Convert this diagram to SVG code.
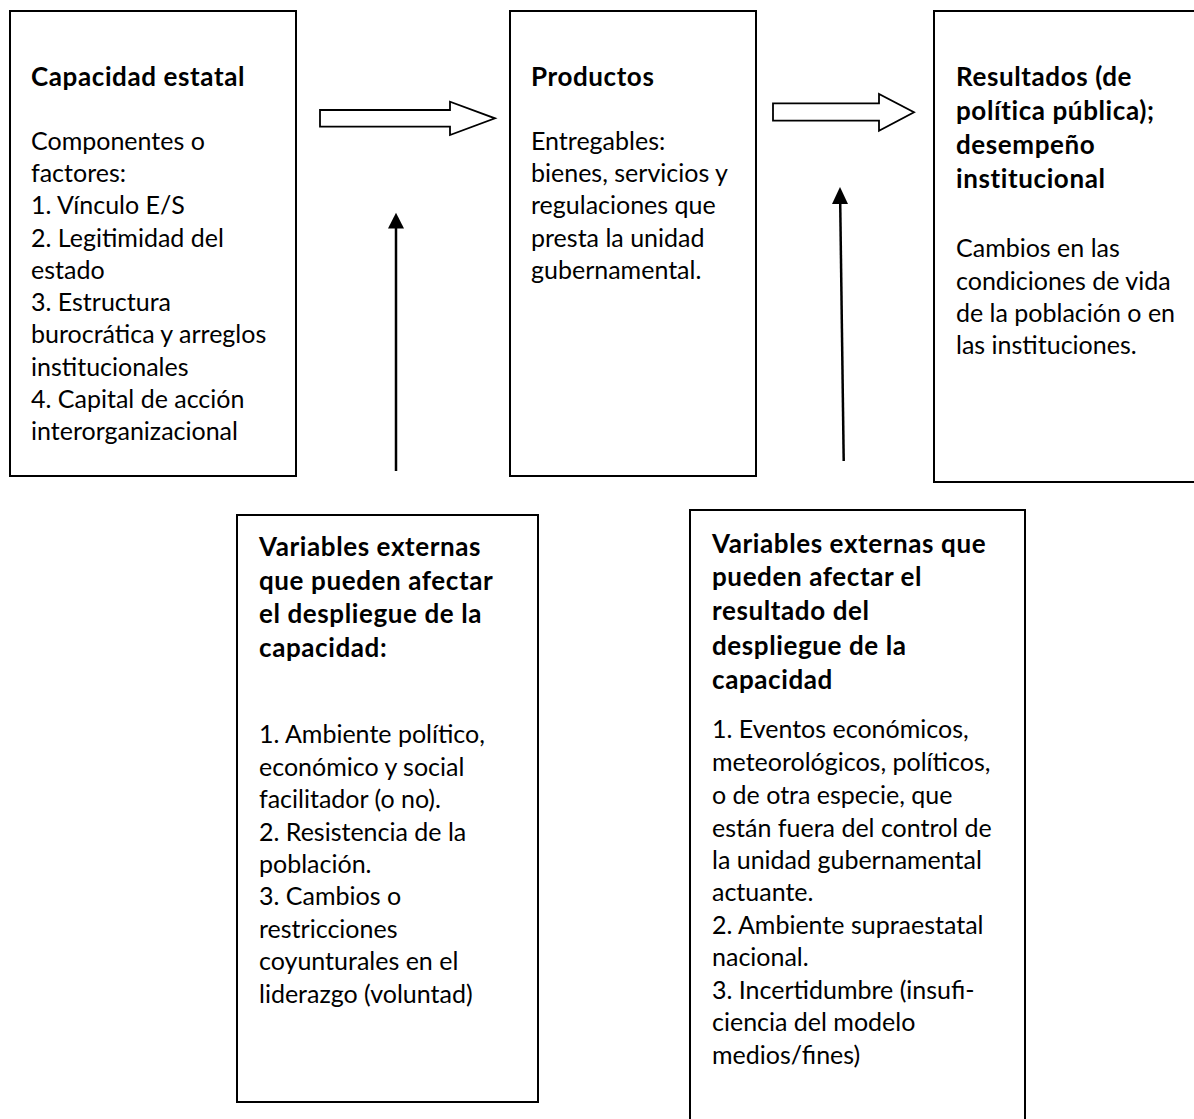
<svg xmlns="http://www.w3.org/2000/svg" width="1194" height="1119" viewBox="0 0 1194 1119">
<style>
.box{fill:#fff;stroke:#000;stroke-width:2}
.t{font-family:Lato,"Liberation Sans",sans-serif;font-size:25px;fill:#000}
.b{font-weight:bold;font-size:26px;letter-spacing:0.6px}
.blk{fill:#fff;stroke:#000;stroke-width:1.8;stroke-linejoin:miter}
.ln{stroke:#000;stroke-width:2.5;fill:none}
</style>
<rect width="1194" height="1119" fill="#fff"/>
<g id="capacidad">
<rect class="box" x="10" y="11" width="286" height="465"/>
<text class="t b" x="31" y="86">Capacidad estatal</text>
<text class="t" x="31" y="150">Componentes o</text>
<text class="t" x="31" y="182">factores:</text>
<text class="t" x="31" y="214">1. Vínculo E/S</text>
<text class="t" x="31" y="247">2. Legitimidad del</text>
<text class="t" x="31" y="279">estado</text>
<text class="t" x="31" y="311">3. Estructura</text>
<text class="t" x="31" y="343">burocrática y arreglos</text>
<text class="t" x="31" y="376">institucionales</text>
<text class="t" x="31" y="408">4. Capital de acción</text>
<text class="t" x="31" y="440">interorganizacional</text>
</g>
<g id="productos">
<rect class="box" x="510" y="11" width="246" height="465"/>
<text class="t b" x="531" y="86">Productos</text>
<text class="t" x="531" y="150">Entregables:</text>
<text class="t" x="531" y="182">bienes, servicios y</text>
<text class="t" x="531" y="214">regulaciones que</text>
<text class="t" x="531" y="247">presta la unidad</text>
<text class="t" x="531" y="279">gubernamental.</text>
</g>
<g id="resultados">
<rect class="box" x="934" y="11" width="270" height="471"/>
<text class="t b" x="956" y="86">Resultados (de</text>
<text class="t b" x="956" y="120">política pública);</text>
<text class="t b" x="956" y="154">desempeño</text>
<text class="t b" x="956" y="188">institucional</text>
<text class="t" x="956" y="257">Cambios en las</text>
<text class="t" x="956" y="290">condiciones de vida</text>
<text class="t" x="956" y="322">de la población o en</text>
<text class="t" x="956" y="354">las instituciones.</text>
</g>
<g id="variables-capacidad">
<rect class="box" x="237" y="515" width="301" height="587"/>
<text class="t b" x="259" y="556">Variables externas</text>
<text class="t b" x="259" y="590">que pueden afectar</text>
<text class="t b" x="259" y="623">el despliegue de la</text>
<text class="t b" x="259" y="657">capacidad:</text>
<text class="t" x="259" y="743">1. Ambiente político,</text>
<text class="t" x="259" y="776">económico y social</text>
<text class="t" x="259" y="808">facilitador (o no).</text>
<text class="t" x="259" y="841">2. Resistencia de la</text>
<text class="t" x="259" y="873">población.</text>
<text class="t" x="259" y="905">3. Cambios o</text>
<text class="t" x="259" y="938">restricciones</text>
<text class="t" x="259" y="970">coyunturales en el</text>
<text class="t" x="259" y="1003">liderazgo (voluntad)</text>
</g>
<g id="variables-resultado">
<rect class="box" x="690" y="510" width="335" height="640"/>
<text class="t b" x="712" y="553">Variables externas que</text>
<text class="t b" x="712" y="586">pueden afectar el</text>
<text class="t b" x="712" y="620">resultado del</text>
<text class="t b" x="712" y="655">despliegue de la</text>
<text class="t b" x="712" y="689">capacidad</text>
<text class="t" x="712" y="738">1. Eventos económicos,</text>
<text class="t" x="712" y="771">meteorológicos, políticos,</text>
<text class="t" x="712" y="804">o de otra especie, que</text>
<text class="t" x="712" y="837">están fuera del control de</text>
<text class="t" x="712" y="869">la unidad gubernamental</text>
<text class="t" x="712" y="901">actuante.</text>
<text class="t" x="712" y="934">2. Ambiente supraestatal</text>
<text class="t" x="712" y="966">nacional.</text>
<text class="t" x="712" y="999">3. Incertidumbre (insufi-</text>
<text class="t" x="712" y="1031">ciencia del modelo</text>
<text class="t" x="712" y="1064">medios/fines)</text>
</g>
<g id="connectors">
<polygon class="blk" points="320,110 450,110 450,101.7 495,118.3 450,135 450,126.7 320,126.7"/>
<polygon class="blk" points="773,103.3 879,103.3 879,94 914,112.3 879,130.7 879,120.7 773,120.7"/>
<line class="ln" x1="396" y1="471" x2="396" y2="226"/>
<polygon points="396,212.7 388,228.5 404,228.5" fill="#000"/>
<line class="ln" x1="843.7" y1="461" x2="840.2" y2="202"/>
<polygon points="840,187 832,204 848,204" fill="#000"/>
</g>
</svg>
